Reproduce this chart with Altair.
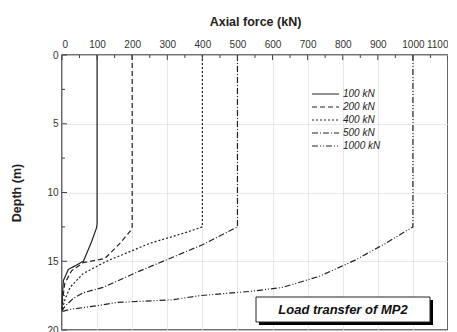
import altair as alt
import pandas as pd

series_names = ["100 kN", "200 kN", "400 kN", "500 kN", "1000 kN"]

load_100_force = [100, 100, 98, 84, 61, 18, 4, 1, 0]
load_100_depth = [0, 12.3, 12.6, 13.6, 15.0, 15.6, 16.4, 17.5, 18.5]

load_200_force = [200, 200, 198, 165, 122, 61, 27, 8, 2, 0]
load_200_depth = [0, 12.5, 12.7, 13.7, 14.8, 15.1, 15.7, 16.6, 17.8, 18.5]

load_400_force = [400, 400, 354, 250, 127, 60, 23, 8, 0]
load_400_depth = [0, 12.5, 12.9, 13.7, 15.0, 15.9, 16.9, 17.8, 18.6]

load_500_force = [500, 500, 400, 307, 222, 117, 60, 32, 8, 0]
load_500_depth = [0, 12.5, 13.8, 14.8, 15.7, 16.9, 17.3, 17.7, 18.3, 18.6]

load_1000_force = [1000, 1000, 922, 837, 733, 629, 534, 392, 316, 155, 108, 23, 0]
load_1000_depth = [0, 12.5, 13.7, 14.9, 16.1, 16.9, 17.2, 17.5, 17.8, 18.0, 18.2, 18.5, 18.65]

x_ticks = list(range(0, 1101, 100))
x_minor = list(range(0, 1101, 50))
y_ticks = [0, 5, 10, 15, 20]
y_minor = [0, 2.5, 5, 7.5, 10, 12.5, 15, 17.5, 20]

dashes = [[1, 0], [5, 3], [2, 2], [6, 2, 1, 2], [6, 2, 1, 2, 1, 2]]

rows = []
for name, fs, ds in zip(
    series_names,
    [load_100_force, load_200_force, load_400_force, load_500_force, load_1000_force],
    [load_100_depth, load_200_depth, load_400_depth, load_500_depth, load_1000_depth],
):
    for i, (f, d) in enumerate(zip(fs, ds)):
        rows.append({"series": name, "force": f, "depth": d, "idx": i})
df = pd.DataFrame(rows)

font = "Liberation Sans"
ink = "#222222"

dash_scale = alt.Scale(domain=series_names, range=dashes)
x_scale = alt.Scale(domain=[0, 1100], nice=False)
y_scale = alt.Scale(domain=[0, 20], reverse=True, nice=False)
x_axis = alt.Axis(orient="top", values=x_ticks, title="Axial force (kN)",
                  format="d", labelOverlap=False, labelFontSize=10,
                  labelPadding=6, titlePadding=11)

lines = alt.Chart(df).mark_line(color=ink, strokeWidth=1.2).encode(
    x=alt.X("force:Q", scale=x_scale, axis=x_axis),
    y=alt.Y("depth:Q", scale=y_scale,
            axis=alt.Axis(values=y_ticks, title="Depth (m)", labelPadding=4,
                          titlePadding=23)),
    strokeDash=alt.StrokeDash("series:N", scale=dash_scale, legend=None),
    detail="series:N",
    order="idx:Q",
)

xt = pd.DataFrame({"v": x_minor, "major": [v % 100 == 0 for v in x_minor]})
yt = pd.DataFrame({"v": y_minor, "major": [v % 5 == 0 for v in y_minor]})

x_tick_major = alt.Chart(xt[xt.major]).mark_rule(color="#444", strokeWidth=1).encode(
    x=alt.X("v:Q", scale=x_scale, axis=x_axis), y=alt.value(0), y2=alt.value(5))
x_tick_minor = alt.Chart(xt[~xt.major]).mark_rule(color="#444", strokeWidth=1).encode(
    x=alt.X("v:Q", scale=x_scale, axis=x_axis), y=alt.value(0), y2=alt.value(3))
y_tick_major = alt.Chart(yt[yt.major]).mark_rule(color="#444", strokeWidth=1).encode(
    y=alt.Y("v:Q", scale=y_scale, axis=None), x=alt.value(0), x2=alt.value(5))
y_tick_minor = alt.Chart(yt[~yt.major]).mark_rule(color="#444", strokeWidth=1).encode(
    y=alt.Y("v:Q", scale=y_scale, axis=None), x=alt.value(0), x2=alt.value(3))

leg_df = pd.DataFrame({"series": series_names})
leg_y = alt.Y("series:N", scale=alt.Scale(type="point", domain=series_names,
                                          range=[39, 91], padding=0), axis=None)
leg_lines = alt.Chart(leg_df).mark_rule(color=ink, strokeWidth=1.2).encode(
    y=leg_y, x=alt.value(250), x2=alt.value(277),
    strokeDash=alt.StrokeDash("series:N", scale=dash_scale, legend=None))
leg_text = alt.Chart(leg_df).mark_text(
    align="left", baseline="middle", font=font, fontSize=10, fontStyle="italic",
    color=ink).encode(y=leg_y, x=alt.value(281), text="series:N")

one = alt.Data(values=[{}])
shadow = alt.Chart(one).mark_rect(color="#000").encode(
    x=alt.value(197), x2=alt.value(371), y=alt.value(245), y2=alt.value(270))
box = alt.Chart(one).mark_rect(fill="white", stroke="#222", strokeWidth=1).encode(
    x=alt.value(194), x2=alt.value(368), y=alt.value(242), y2=alt.value(267))
box_text = alt.Chart(one).mark_text(
    font=font, fontSize=13, fontWeight="bold", fontStyle="italic", color="#111",
    align="center", baseline="middle").encode(
    x=alt.value(281), y=alt.value(255), text=alt.value("Load transfer of MP2"))

chart = alt.layer(
    lines, x_tick_major, x_tick_minor, y_tick_major, y_tick_minor,
    leg_lines, leg_text, shadow, box, box_text,
).resolve_scale(y="independent").properties(
    width=386, height=275,
    autosize=alt.AutoSizeParams(type="none"),
    padding={"left": 54, "top": 47, "right": 0, "bottom": 2},
).configure_view(
    stroke="#444", strokeWidth=1.6
).configure_axis(
    domain=False, ticks=False, grid=True, gridColor="#dedede", gridWidth=0.7,
    labelFont=font, labelFontSize=10, labelColor="#333",
    titleFont=font, titleFontSize=12.5, titleFontWeight="bold", titleColor="#222",
)

chart.save("out.html", embed_options={"renderer": "svg", "actions": False})
